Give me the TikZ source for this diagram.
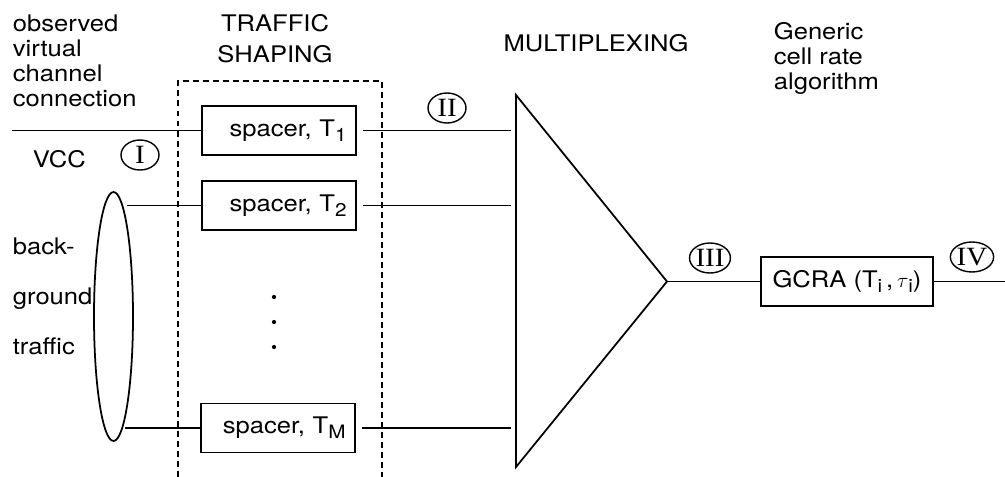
\documentclass[tikz,border=0pt]{standalone}
\usepackage{fontspec}
\setmainfont[FakeStretch=1.12]{TeX Gyre Heros}
\newfontfamily\numfont[FakeStretch=1.1]{Liberation Serif}
\usetikzlibrary{shapes.geometric}
\newcommand\lowsub[1]{\raisebox{-0.4ex}{\fontsize{10.5}{10.5}\selectfont #1}}

\begin{document}
\begin{tikzpicture}[x=0.02cm, y=-0.02cm, line width=1pt,
  font=\fontsize{13}{14.2}\selectfont,
  spacerbox/.style={draw, text width=2.7cm, align=right, inner xsep=0.19cm,
    minimum height=0.98cm},
  numcirc/.style={draw, ellipse, inner sep=0pt, minimum width=0.76cm,
    minimum height=0.6cm, line width=0.8pt,
    font=\numfont\fontsize{15}{15}\selectfont},
  txt/.style={inner sep=0pt}]
\useasboundingbox (0,0) rectangle (1005,477);

\node[txt, anchor=north west, align=left] (vcctext) at (12,14)
  {observed\\virtual\\channel\\connection};
\node[txt, anchor=base west] (vcc) at (32,167) {VCC};
\node[txt, anchor=north west, align=left,
  font=\fontsize{13}{28.4}\selectfont] (bgtext) at (12,237)
  {back-\\ground\\traffic};
\node[txt, anchor=north, align=center,
  font=\fontsize{13}{17.6}\selectfont] (shaping) at (275,14)
  {TRAFFIC\\SHAPING};
\node[txt, anchor=base] (muxtext) at (596,51) {MULTIPLEXING};
\node[txt, anchor=north west, align=left] (gcratext) at (773,22)
  {Generic\\cell rate\\algorithm};

% traffic shaping
\draw[dash pattern=on 3.4pt off 2.3pt] (178,477) -- (178,81) -- (382,81) -- (382,477);
\node[spacerbox] (sp1) at (279,130.5) {spacer, T\lowsub{1}};
\node[spacerbox] (sp2) at (279,205.5) {spacer, T\lowsub{2}};
\node[spacerbox] (spM) at (278,428) {spacer, T\lowsub{M}};
\foreach \y in {297,322,347}
  \fill (274,\y) circle [radius=1.2pt];

\node[draw, ellipse, inner sep=0pt, minimum width=0.78cm,
  minimum height=4.98cm] (bg) at (113.5,316.5) {};
\coordinate (vccin) at (12,130.5);
\coordinate (bg2) at (127,205.5);
\coordinate (bgM) at (125,428);
\draw (vccin) -- (sp1);
\draw (bg2) -- (sp2);
\draw (bgM) -- (spM);

% multiplexer
\coordinate (muxtop) at (516,95);
\coordinate (muxbot) at (516,467);
\coordinate (mux) at (667,281.5);
\draw (muxtop) -- (mux) -- (muxbot) -- cycle;
\draw[shorten <=3.4pt, shorten >=2.8pt] (sp1) -- (sp1 -| muxtop);
\draw[shorten <=3.4pt, shorten >=2.8pt] (sp2) -- (sp2 -| muxtop);
\draw[shorten <=3.4pt, shorten >=2.8pt] (spM) -- (spM -| muxtop);

% gcra
\node[draw, minimum width=3.44cm, minimum height=0.98cm] (gcra) at (847,281.5)
  {GCRA (T\lowsub{i}\,,\,$\tau$\lowsub{i})};
\coordinate (out) at (1005,281.5);
\draw (mux) -- (gcra);
\draw (gcra) -- (out);

\node[numcirc] (n1) at (140,155) {I};
\node[numcirc] (n2) at (447,108) {II};
\node[numcirc] (n3) at (710,258) {III};
\node[numcirc] (n4) at (972,257) {IV};
\end{tikzpicture}
\end{document}
